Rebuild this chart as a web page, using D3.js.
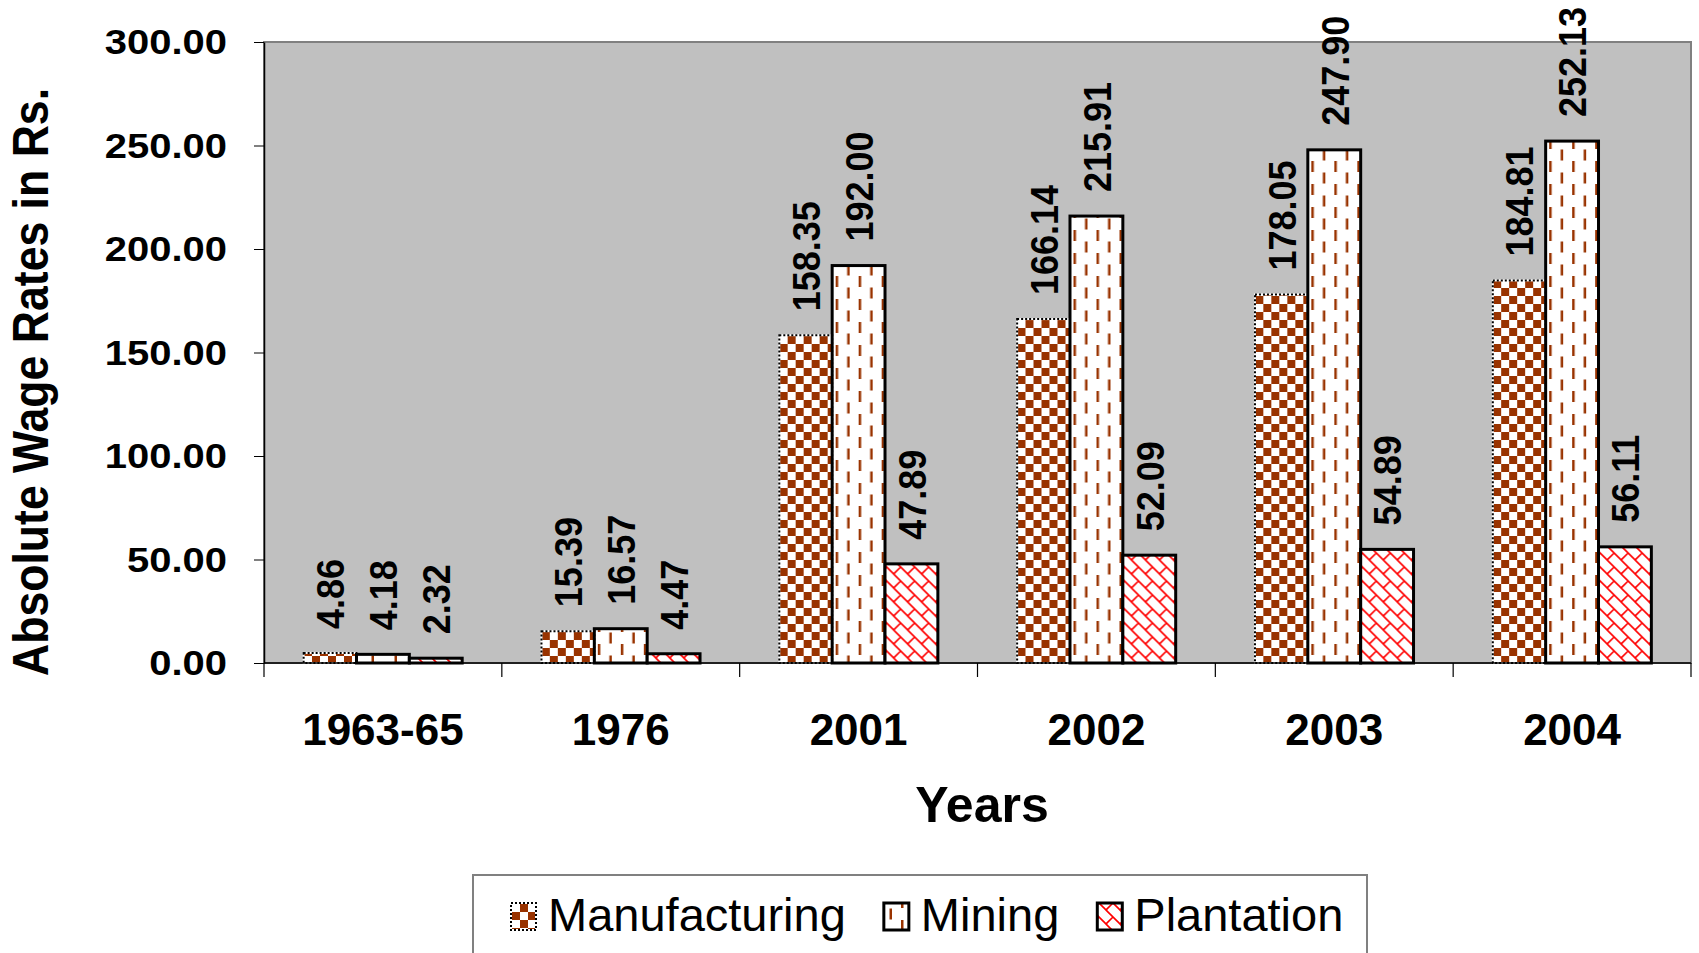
<!DOCTYPE html>
<html>
<head>
<meta charset="utf-8">
<script src="https://cdn.jsdelivr.net/npm/d3@7"></script>
<style>
  body { margin: 0; background: #fff; }
  svg text { font-family: "Liberation Sans", Arial, sans-serif; }
</style>
</head>
<body>
<svg id="chart"></svg>
<script>
const years = ["1963-65", "1976", "2001", "2002", "2003", "2004"];
const seriesNames = ["Manufacturing", "Mining", "Plantation"];
const manufacturing = [4.86, 15.39, 158.35, 166.14, 178.05, 184.81];
const mining = [4.18, 16.57, 192.00, 215.91, 247.90, 252.13];
const plantation = [2.32, 4.47, 47.89, 52.09, 54.89, 56.11];
const yTicks = [0, 50, 100, 150, 200, 250, 300];

const W = 1699, H = 953;
const plot = {left: 264, right: 1691, top: 42, bottom: 663};
const brown = "#993300";

const svg = d3.select("#chart").attr("width", W).attr("height", H);

const rows = years.map(function(yr, i) {
  return {year: yr, values: [
    {key: "Manufacturing", v: manufacturing[i]},
    {key: "Mining", v: mining[i]},
    {key: "Plantation", v: plantation[i]}
  ]};
});

// patterns
const defs = svg.append("defs");
const pMan = defs.append("pattern").attr("id", "pat-man")
  .attr("patternUnits", "userSpaceOnUse").attr("width", 16).attr("height", 16);
pMan.append("rect").attr("width", 16).attr("height", 16).attr("fill", "#fff");
pMan.append("rect").attr("width", 8).attr("height", 8).attr("fill", brown);
pMan.append("rect").attr("x", 8).attr("y", 8).attr("width", 8).attr("height", 8).attr("fill", brown);

const pMin = defs.append("pattern").attr("id", "pat-min")
  .attr("patternUnits", "userSpaceOnUse").attr("width", 23).attr("height", 23);
pMin.append("rect").attr("width", 23).attr("height", 23).attr("fill", "#fff");
pMin.append("rect").attr("x", 4).attr("y", 0).attr("width", 2.5).attr("height", 11).attr("fill", brown);
pMin.append("rect").attr("x", 15.5).attr("y", 11.5).attr("width", 2.5).attr("height", 11).attr("fill", brown);

const pPla = defs.append("pattern").attr("id", "pat-pla")
  .attr("patternUnits", "userSpaceOnUse").attr("width", 14).attr("height", 14);
pPla.append("rect").attr("width", 14).attr("height", 14).attr("fill", "#fff");
pPla.append("path").attr("d", "M-1,-1L15,15M7,7L-1,15M13,-1L15,1")
  .attr("stroke", "#ff0000").attr("stroke-width", 1.6).attr("fill", "none");

const fills = {Manufacturing: "url(#pat-man)", Mining: "url(#pat-min)", Plantation: "url(#pat-pla)"};

// scales
const x0 = d3.scaleBand().domain(years).range([plot.left, plot.right]).padding(0);
const x1 = d3.scaleBand().domain(seriesNames).range([0, x0.bandwidth()])
  .paddingInner(0).paddingOuter(0.75);
const y = d3.scaleLinear().domain([0, 300]).range([plot.bottom, plot.top]);

// plot area
svg.append("rect")
  .attr("x", plot.left).attr("y", plot.top)
  .attr("width", plot.right - plot.left).attr("height", plot.bottom - plot.top)
  .attr("fill", "#c0c0c0").attr("stroke", "#808080").attr("stroke-width", 2);

// bars
const groups = svg.selectAll("g.year").data(rows).enter().append("g")
  .attr("class", "year")
  .attr("transform", function(d) { return "translate(" + x0(d.year) + ",0)"; });

groups.selectAll("rect.bar").data(function(d) { return d.values; }).enter().append("rect")
  .attr("class", "bar")
  .attr("x", function(d) { return x1(d.key); })
  .attr("y", function(d) { return y(d.v); })
  .attr("width", x1.bandwidth())
  .attr("height", function(d) { return y(0) - y(d.v); })
  .attr("fill", function(d) { return fills[d.key]; })
  .attr("stroke", function(d) { return d.key === "Manufacturing" ? "#fff" : "#000"; })
  .attr("stroke-width", function(d) { return d.key === "Manufacturing" ? 2 : 3; });

// dotted outline on manufacturing bars
groups.selectAll("rect.dot").data(function(d) { return d.values.filter(function(v) { return v.key === "Manufacturing"; }); })
  .enter().append("rect")
  .attr("class", "dot")
  .attr("x", function(d) { return x1(d.key); })
  .attr("y", function(d) { return y(d.v); })
  .attr("width", x1.bandwidth())
  .attr("height", function(d) { return y(0) - y(d.v); })
  .attr("fill", "none").attr("stroke", "#000").attr("stroke-width", 2)
  .attr("stroke-dasharray", "2,2");

// value labels
groups.selectAll("text.val").data(function(d) { return d.values; }).enter().append("text")
  .attr("class", "val")
  .attr("transform", function(d) {
    return "translate(" + (x1(d.key) + x1.bandwidth() / 2) + "," + (y(d.v) - 24) + ") scale(1.1,1) rotate(-90)";
  })
  .attr("dy", "0.36em")
  .attr("text-anchor", "start")
  .style("font-size", "36px").style("font-weight", "bold")
  .text(function(d) { return d3.format(".2f")(d.v); });

// y axis
const yAxis = svg.append("g")
  .attr("transform", "translate(" + plot.left + ",0)")
  .call(d3.axisLeft(y).tickValues(yTicks).tickFormat(d3.format(".2f")).tickSize(10).tickSizeOuter(0));
yAxis.select(".domain").attr("stroke", "#000").attr("stroke-width", 1.5);
yAxis.selectAll(".tick line").attr("stroke", "#000");
yAxis.selectAll(".tick text")
  .attr("x", 0)
  .attr("transform", "translate(-37,0) scale(1.11,1)")
  .attr("fill", "#000")
  .style("font-size", "36px").style("font-weight", "bold");

// x axis
svg.append("line")
  .attr("x1", plot.left).attr("x2", plot.right)
  .attr("y1", plot.bottom).attr("y2", plot.bottom)
  .attr("stroke", "#000").attr("stroke-width", 1.5);
const bounds = years.map(function(d) { return x0(d); }).concat([x0.range()[1]]);
svg.selectAll("line.xtick").data(bounds).enter().append("line")
  .attr("class", "xtick")
  .attr("x1", function(d) { return d; }).attr("x2", function(d) { return d; })
  .attr("y1", plot.bottom).attr("y2", plot.bottom + 14)
  .attr("stroke", "#000").attr("stroke-width", 1.2);
svg.selectAll("text.xlab").data(years).enter().append("text")
  .attr("class", "xlab")
  .attr("x", function(d) { return x0(d) + x0.bandwidth() / 2; })
  .attr("y", 745)
  .attr("text-anchor", "middle")
  .style("font-size", "44px").style("font-weight", "bold")
  .text(function(d) { return d; });

// axis titles
svg.append("text")
  .attr("x", 982).attr("y", 822)
  .attr("text-anchor", "middle")
  .style("font-size", "50px").style("font-weight", "bold")
  .text("Years");

svg.append("text")
  .attr("transform", "translate(31,382) scale(1.12,1) rotate(-90)")
  .attr("dy", "0.35em")
  .attr("text-anchor", "middle")
  .style("font-size", "44.6px").style("font-weight", "bold")
  .text("Absolute Wage Rates in Rs.");

// legend
svg.append("rect")
  .attr("x", 473).attr("y", 875).attr("width", 894).attr("height", 120)
  .attr("fill", "#fff").attr("stroke", "#808080").attr("stroke-width", 2);

let lx = 511;
seriesNames.forEach(function(name) {
  const g = svg.append("g");
  g.append("rect")
    .attr("x", lx).attr("y", 903).attr("width", 25).attr("height", 27)
    .attr("fill", fills[name])
    .attr("stroke", name === "Manufacturing" ? "#fff" : "#000")
    .attr("stroke-width", name === "Manufacturing" ? 2 : 3);
  if (name === "Manufacturing") {
    g.append("rect")
      .attr("x", lx).attr("y", 903).attr("width", 25).attr("height", 27)
      .attr("fill", "none").attr("stroke", "#000").attr("stroke-width", 2)
      .attr("stroke-dasharray", "2,2");
  }
  const t = g.append("text")
    .attr("x", lx + 37).attr("y", 931)
    .style("font-size", "47px")
    .text(name);
  lx = lx + 37 + t.node().getComputedTextLength() + 38;
});
</script>
</body>
</html>
